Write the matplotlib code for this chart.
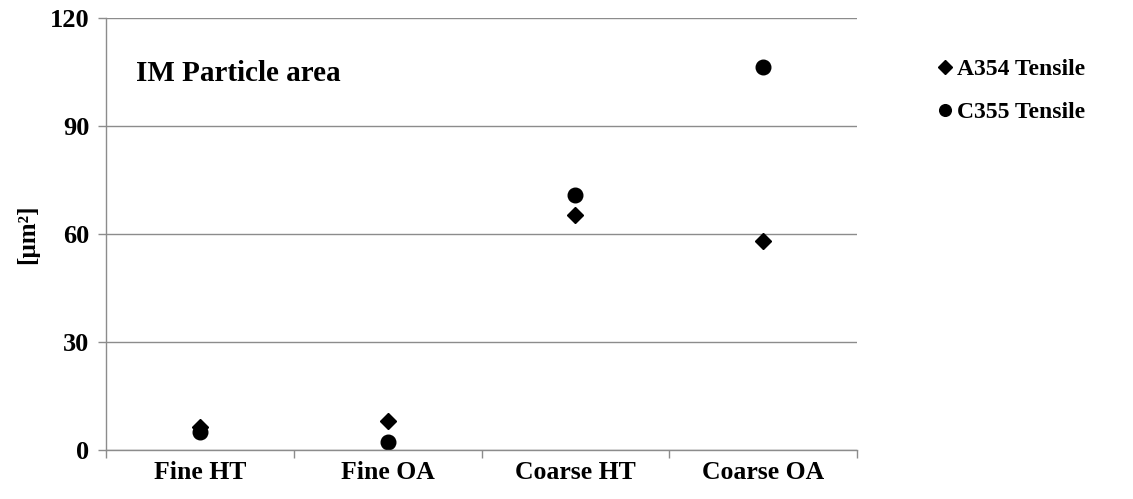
import matplotlib.pyplot as plt
import numpy as np

categories = ["Fine HT", "Fine OA", "Coarse HT", "Coarse OA"]
a354 = [6.3, 8.2, 65.2, 58.2]
c355 = [4.9, 2.3, 70.8, 106.3]

plt.rcParams["font.family"] = ["Liberation Serif", "DejaVu Serif"]
plt.rcParams["font.weight"] = "bold"
grey = "#8c8c8c"

fig = plt.figure(figsize=(11.33, 4.99), dpi=100)
ax = fig.add_axes([0.0936, 0.098, 0.6628, 0.866])

x = np.arange(1, len(categories) + 1)
ax.plot(x, a354, linestyle="none", marker="D", ms=8.5, color="black", label="A354 Tensile")
ax.plot(x, c355, linestyle="none", marker="o", ms=10.5, color="black", label="C355 Tensile")

ax.set_xlim(0.5, 4.5)
ax.set_ylim(0, 120)
ax.set_yticks([0, 30, 60, 90, 120])
ax.set_xticks(x)
ax.set_xticklabels(categories)
ax.set_xticks(np.arange(0.5, 4.6, 1), minor=True)
ax.tick_params(axis="x", which="major", length=0, labelsize=18.5, pad=8)
ax.tick_params(axis="x", which="minor", length=6, color=grey, width=1)
ax.tick_params(axis="y", length=6, color=grey, width=1, labelsize=19, pad=6)
for lab in ax.get_xticklabels() + ax.get_yticklabels():
    lab.set_fontweight("bold")

ax.grid(axis="y", color=grey, linewidth=1)
ax.set_axisbelow(True)
for s in ["top", "right"]:
    ax.spines[s].set_visible(False)
for s in ["left", "bottom"]:
    ax.spines[s].set_color(grey)
    ax.spines[s].set_linewidth(1)

ax.set_ylabel("[µm²]", fontsize=18, fontweight="bold", labelpad=8)
ax.text(0.04, 0.855, "IM Particle area", transform=ax.transAxes,
        fontsize=21, fontweight="bold")

leg = fig.legend(loc="upper left", bbox_to_anchor=(0.808, 0.925), frameon=False,
                 handletextpad=0.15, handlelength=0.7, markerscale=0.8,
                 labelspacing=0.9, prop={"weight": "bold", "size": 17})

fig.savefig("out.png", dpi=100)
